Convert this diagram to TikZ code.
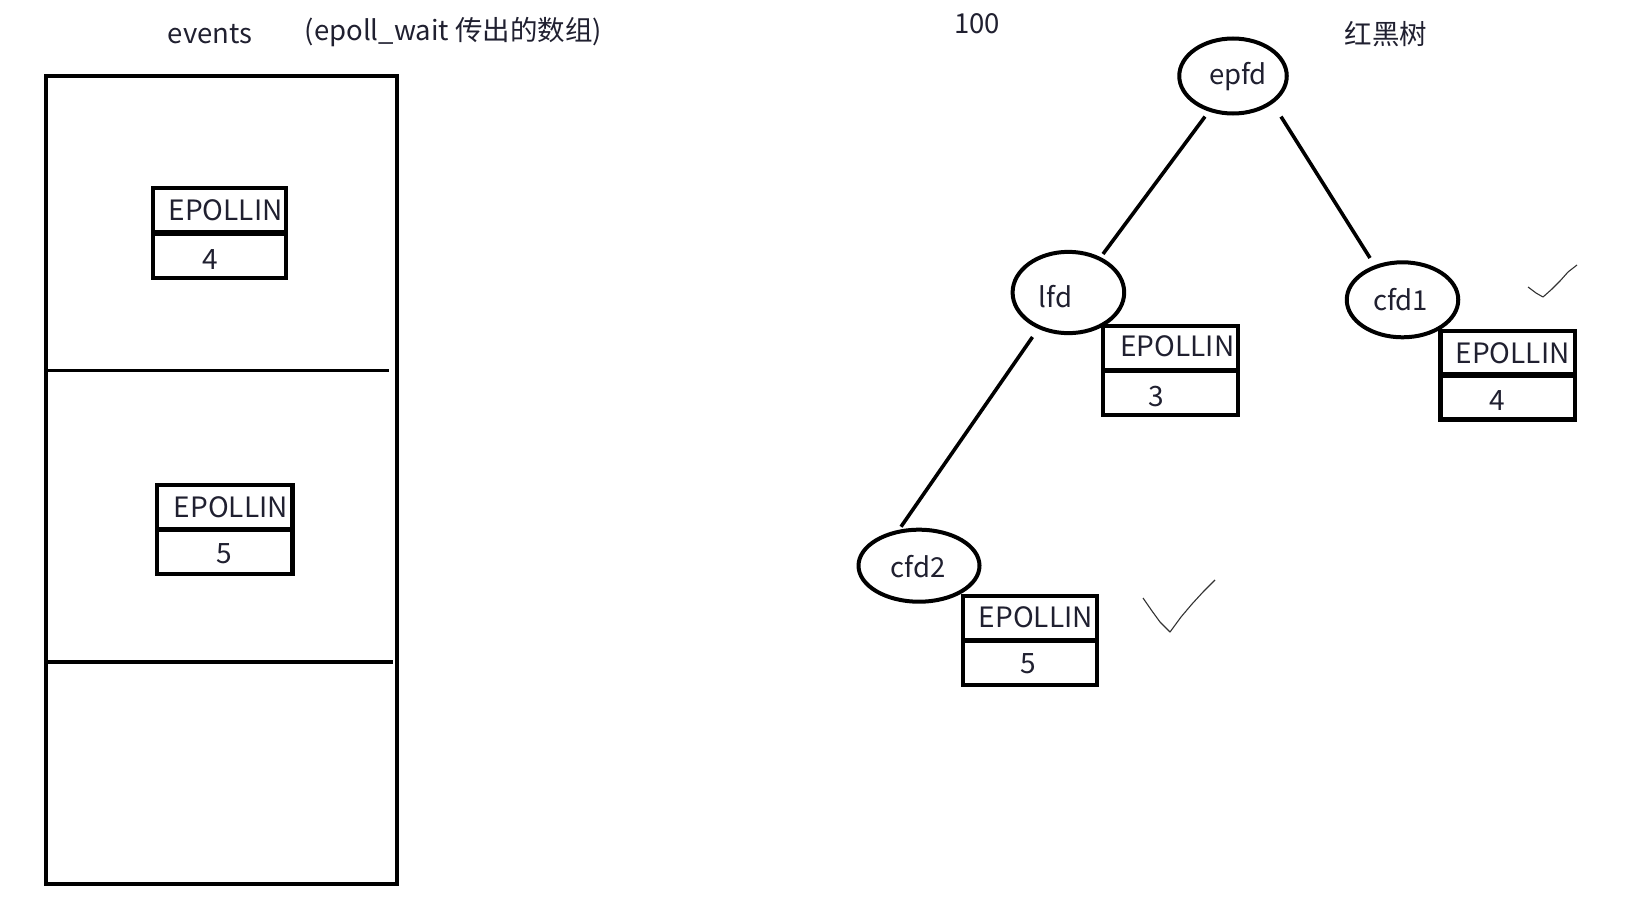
\documentclass[tikz,border=0pt]{standalone}
\usepackage{fontspec}
\setmainfont{Noto Sans CJK SC}
\usetikzlibrary{shapes.geometric}
\definecolor{ink}{HTML}{202030}
\tikzset{
  txt/.style={inner sep=0pt, text=ink, font=\fontsize{27.5}{32}\selectfont},
  boxtxt/.style={txt, font=\fontsize{28}{32}\selectfont},
  oval/.style={ellipse, draw=black, line width=4pt, inner sep=0pt},
  evbox/.style={draw=black, line width=4.2pt, inner sep=0pt},
  sepline/.style={line width=5.5pt, line cap=butt},
  edge/.style={line width=3.6pt},
  tick/.style={line width=1.1pt, draw=black!80, line join=round}
}
\begin{document}
\begin{tikzpicture}[x=1pt,y=-1pt]
\useasboundingbox (0,0) rectangle (1632,918);

% titles
\node[txt] (ev) at (210,34) {events};
\node[txt] (evnote) at (453.5,32) {(epoll\_wait 传出的数组)};
\node[txt] (hundred) at (977,24) {100};
\node[txt] (rbt) at (1386,34) {红黑树};

% events array
\node[evbox, minimum width=351pt, minimum height=807.8pt] (arr) at (221.2,479.8) {};
\coordinate (d1l) at (47,370.5);
\coordinate (d1r) at (389,370.5);
\coordinate (d2l) at (47,662);
\coordinate (d2r) at (393,662);
\draw[line width=3.5pt] (d1l) -- (d1r);
\draw[line width=3.5pt] (d2l) -- (d2r);

% boxes in array
\node[evbox, minimum width=133.3pt, minimum height=89.7pt] (a1) at (219.6,233.2) {};
\draw[sepline] ([xshift=4pt]a1.west) -- (a1.east);
\node[boxtxt] (a1t) at ([shift={(6,-23)}]a1.center) {EPOLLIN};
\node[boxtxt] (a1n) at ([shift={(-9,26)}]a1.center) {4};

\node[evbox, minimum width=135.4pt, minimum height=88.7pt] (a2) at (224.8,529.3) {};
\draw[sepline] ([xshift=4pt]a2.west) -- (a2.east);
\node[boxtxt] (a2t) at ([shift={(6,-22)}]a2.center) {EPOLLIN};
\node[boxtxt] (a2n) at ([shift={(-1,24)}]a2.center) {5};

% tree nodes
\node[oval, minimum width=107.5pt, minimum height=75pt] (epfd) at (1233,76) {};
\node[txt] (epfdt) at ([shift={(5,1)}]epfd.center) {epfd};
\node[oval, minimum width=111.6pt, minimum height=81.3pt] (lfd) at (1068.4,292.5) {};
\node[txt] (lfdt) at ([shift={(-13,4)}]lfd.center) {lfd};
\node[oval, minimum width=111.5pt, minimum height=75pt] (cfd1) at (1402.5,299.8) {};
\node[txt] (cfd1t) at ([shift={(-2,0)}]cfd1.center) {cfd1};
\node[oval, minimum width=121pt, minimum height=72pt] (cfd2) at (919,565.7) {};
\node[txt] (cfd2t) at ([shift={(-1,1)}]cfd2.center) {cfd2};

% tree edges
\draw[edge] ([shift={(-28,40.6)}]epfd.center) -- ([shift={(34.6,-38.5)}]lfd.center);
\draw[edge] ([shift={(48,40.6)}]epfd.center) -- ([shift={(-32.5,-41.8)}]cfd1.center);
\draw[edge] ([shift={(-35.9,44.5)}]lfd.center) -- ([shift={(-18,-39)}]cfd2.center);

% tree boxes
\node[evbox, fill=white, minimum width=134.4pt, minimum height=89.7pt] (b1) at (1170.4,370.5) {};
\draw[sepline] ([xshift=4pt]b1.west) -- (b1.east);
\node[boxtxt] (b1t) at ([shift={(7,-24)}]b1.center) {EPOLLIN};
\node[boxtxt] (b1n) at ([shift={(-14,26)}]b1.center) {3};

\node[evbox, fill=white, minimum width=134.4pt, minimum height=88.6pt] (b2) at (1507.6,375.2) {};
\draw[sepline] ([xshift=4pt]b2.west) -- (b2.east);
\node[boxtxt] (b2t) at ([shift={(5,-22)}]b2.center) {EPOLLIN};
\node[boxtxt] (b2n) at ([shift={(-10,25)}]b2.center) {4};

\node[evbox, fill=white, minimum width=134.4pt, minimum height=88.6pt] (b3) at (1029.9,640.6) {};
\draw[sepline] ([xshift=4pt]b3.west) -- (b3.east);
\node[boxtxt] (b3t) at ([shift={(6,-23.6)}]b3.center) {EPOLLIN};
\node[boxtxt] (b3n) at ([shift={(-2,23)}]b3.center) {5};

% check marks
\draw[tick] (1528,287) -- (1536,293) -- (1543,297) -- (1552,289) -- (1560,281) -- (1568,272) -- (1577,265);
\draw[tick] (1143,598) -- (1152,611) -- (1160,622) -- (1170,632) -- (1181,617) -- (1192,604) -- (1203,592) -- (1215,580);
\end{tikzpicture}
\end{document}
